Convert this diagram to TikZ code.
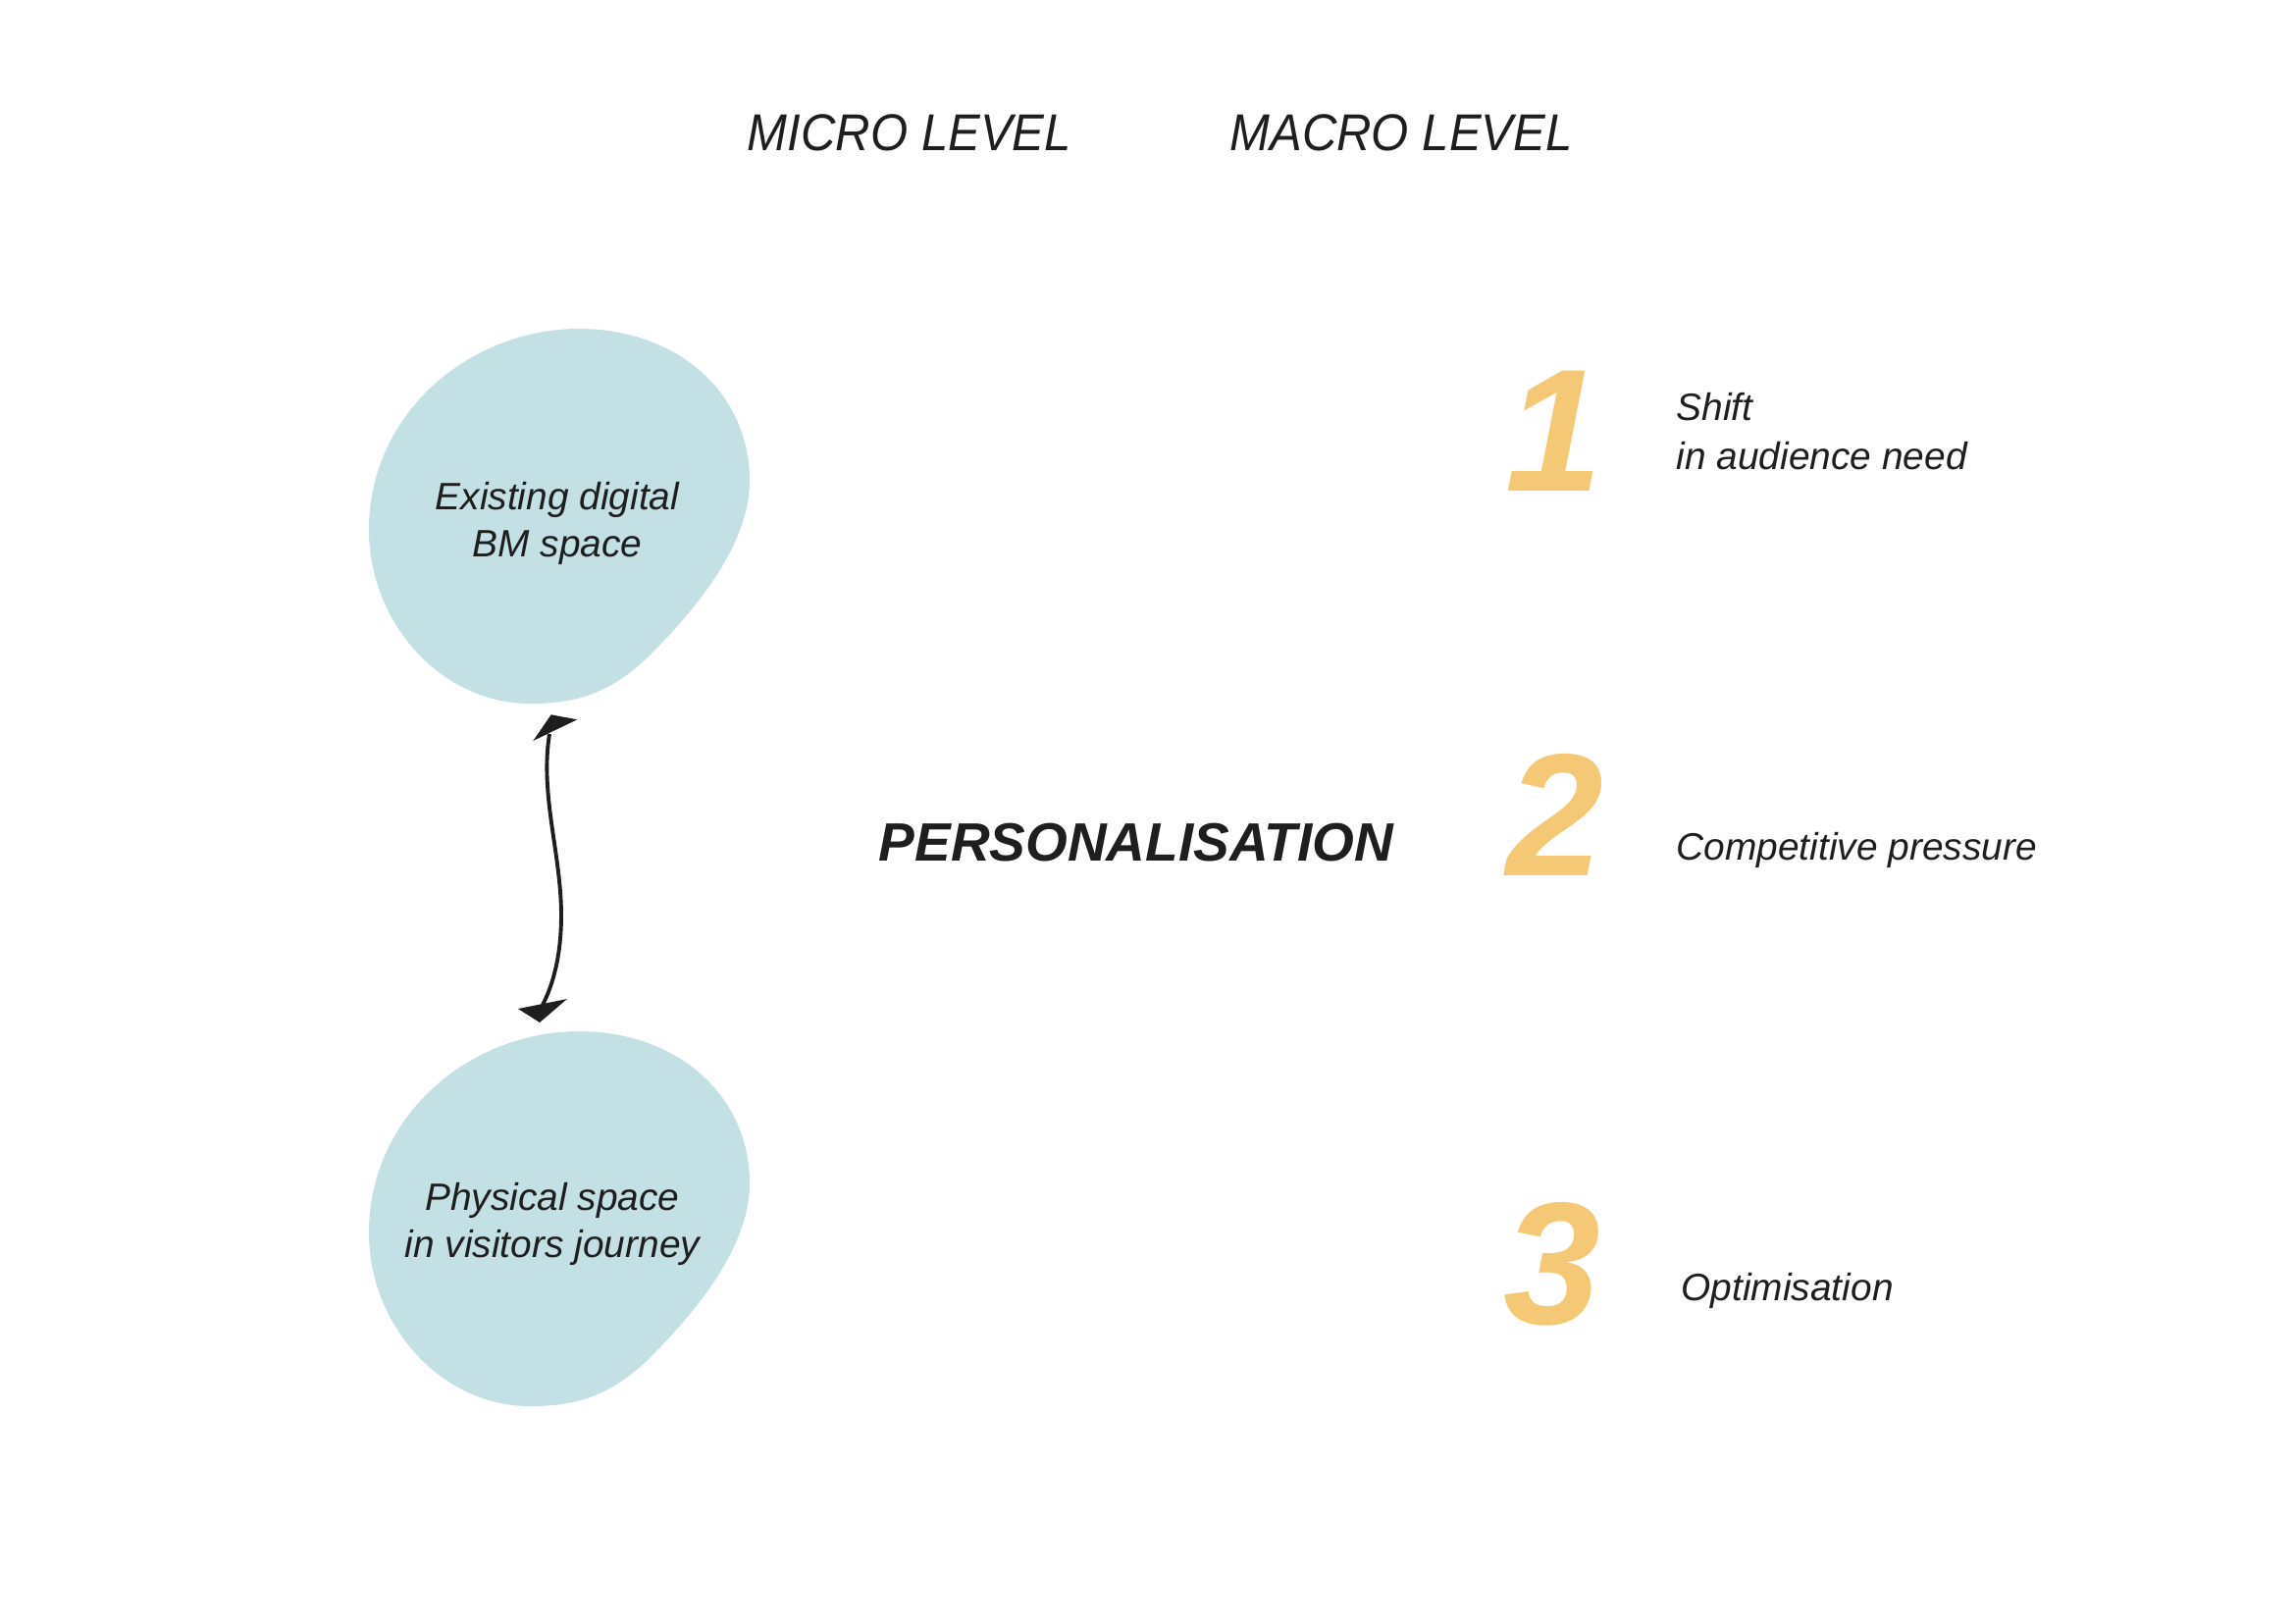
\documentclass[tikz,border=0pt]{standalone}
\usepackage{fontspec}
\setmainfont{Liberation Sans}
\newfontfamily\lvlfont[FakeStretch=0.93]{Liberation Sans}
\definecolor{blobcol}{RGB}{195,224,228}
\definecolor{numcol}{RGB}{245,200,117}
\definecolor{ink}{RGB}{30,30,30}
\tikzset{
  levelhead/.style={anchor=base, inner sep=0pt, text=ink, font=\lvlfont\itshape\fontsize{19}{22}\selectfont},
  bigword/.style={anchor=base, inner sep=0pt, text=ink, font=\bfseries\itshape\fontsize{19.8}{24}\selectfont},
  bignum/.style={anchor=base, inner sep=0pt, text=numcol, font=\bfseries\itshape\fontsize{64}{66}\selectfont},
  desc/.style={anchor=base west, inner sep=0pt, text=ink, align=left, font=\itshape\fontsize{14}{18}\selectfont},
  bloblabel/.style={inner sep=0pt, text=ink, align=center, font=\itshape\fontsize{14}{17.3}\selectfont},
  blobfill/.style={fill=blobcol, draw=none},
  arrowline/.style={draw=ink, line width=1.4pt},
  arrowhead/.style={fill=ink, draw=none}
}
\begin{document}
\begin{tikzpicture}[x=0.36pt, y=-0.36pt]
\useasboundingbox (0,0) rectangle (2339,1654);
% blobs
\foreach \dy in {0,716}{
  \begin{scope}[yshift=-\dy*0.36pt]
  \fill[blobfill] (376,540) .. controls (376,420) and (480,335) .. (590,335)
    .. controls (690,335) and (764,400) .. (764,490)
    .. controls (764,560) and (700,630) .. (660,670)
    .. controls (620,708) and (585,717) .. (540,717)
    .. controls (450,717) and (376,635) .. (376,540) -- cycle;
  \end{scope}
}
\node[bloblabel] (top) at (568,533) {Existing digital\\BM space};
\node[bloblabel] (bottom) at (563,1247) {Physical space\\in visitors journey};
% double arrow
\coordinate (a1) at (560,748);
\coordinate (a2) at (553,1024);
\draw[arrowline] (a1) .. controls (550,810) and (572,870) .. (572,933)
  .. controls (572,975) and (563,1005) .. (a2);
\fill[arrowhead] (543.3,755) -- (561.7,728.3) -- (588.3,733.3) -- (566,744) -- cycle;
\fill[arrowhead] (528,1028) -- (550,1042) -- (578,1018) -- (553,1023) -- cycle;
% headings
\node[levelhead] (micro) at (927,153) {MICRO LEVEL};
\node[levelhead] (macro) at (1428,153) {MACRO LEVEL};
\node[bigword] (pers) at (1158,877) {PERSONALISATION};
% numbers
\node[bignum] (n1) at (1584,500) {1};
\node[bignum] (n2) at (1585,892) {2};
\node[bignum] (n3) at (1582,1349) {3};
% descriptions
\node[desc] (d1) at (1708,478) {Shift\\in audience need};
\node[desc] (d2) at (1708,876) {Competitive pressure};
\node[desc] (d3) at (1713,1325) {Optimisation};
\end{tikzpicture}
\end{document}
